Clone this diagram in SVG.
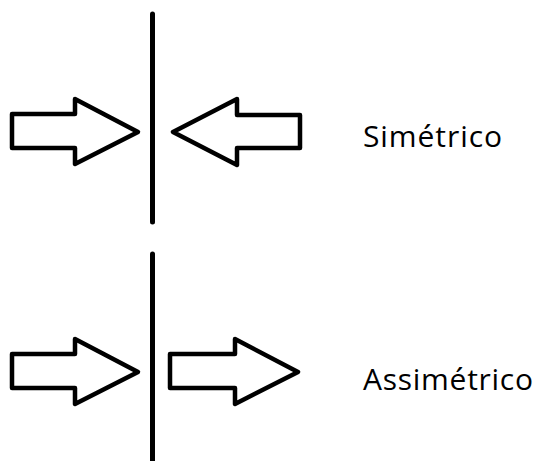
<svg xmlns="http://www.w3.org/2000/svg" width="537" height="461" viewBox="0 0 537 461">
  <style>
    .bar { stroke: #000; stroke-width: 5; stroke-linecap: round; fill: none; }
    .arrow { fill: #fff; stroke: #000; stroke-width: 4.5; stroke-linejoin: round; }
    .label { font-family: "Open Sans", "Noto Sans", sans-serif; font-size: 30px; fill: #000; }
  </style>
  <rect width="537" height="461" fill="#fff"/>

  <!-- symmetric: two arrows pushing toward the wall -->
  <g id="simetrico">
    <line class="bar" x1="152.5" y1="14" x2="152.5" y2="222"/>
    <polygon class="arrow" points="12,114 75,114 75,99 138,132 75,164 75,148 12,148"/>
    <polygon class="arrow" points="300,115 237,115 237,99 173,132 237,165 237,148 300,148"/>
    <text class="label" x="363" y="147" textLength="139" lengthAdjust="spacing">Simétrico</text>
  </g>

  <!-- asymmetric: arrows on both sides point the same way -->
  <g id="assimetrico">
    <line class="bar" x1="152.5" y1="254" x2="152.5" y2="470"/>
    <polygon class="arrow" points="12,354 75,354 75,339 138,372 75,404 75,388 12,388"/>
    <polygon class="arrow" points="170,354 235,354 235,339 298,372 235,404 235,388 170,388"/>
    <text class="label" x="363" y="390" textLength="170" lengthAdjust="spacing">Assimétrico</text>
  </g>
</svg>
